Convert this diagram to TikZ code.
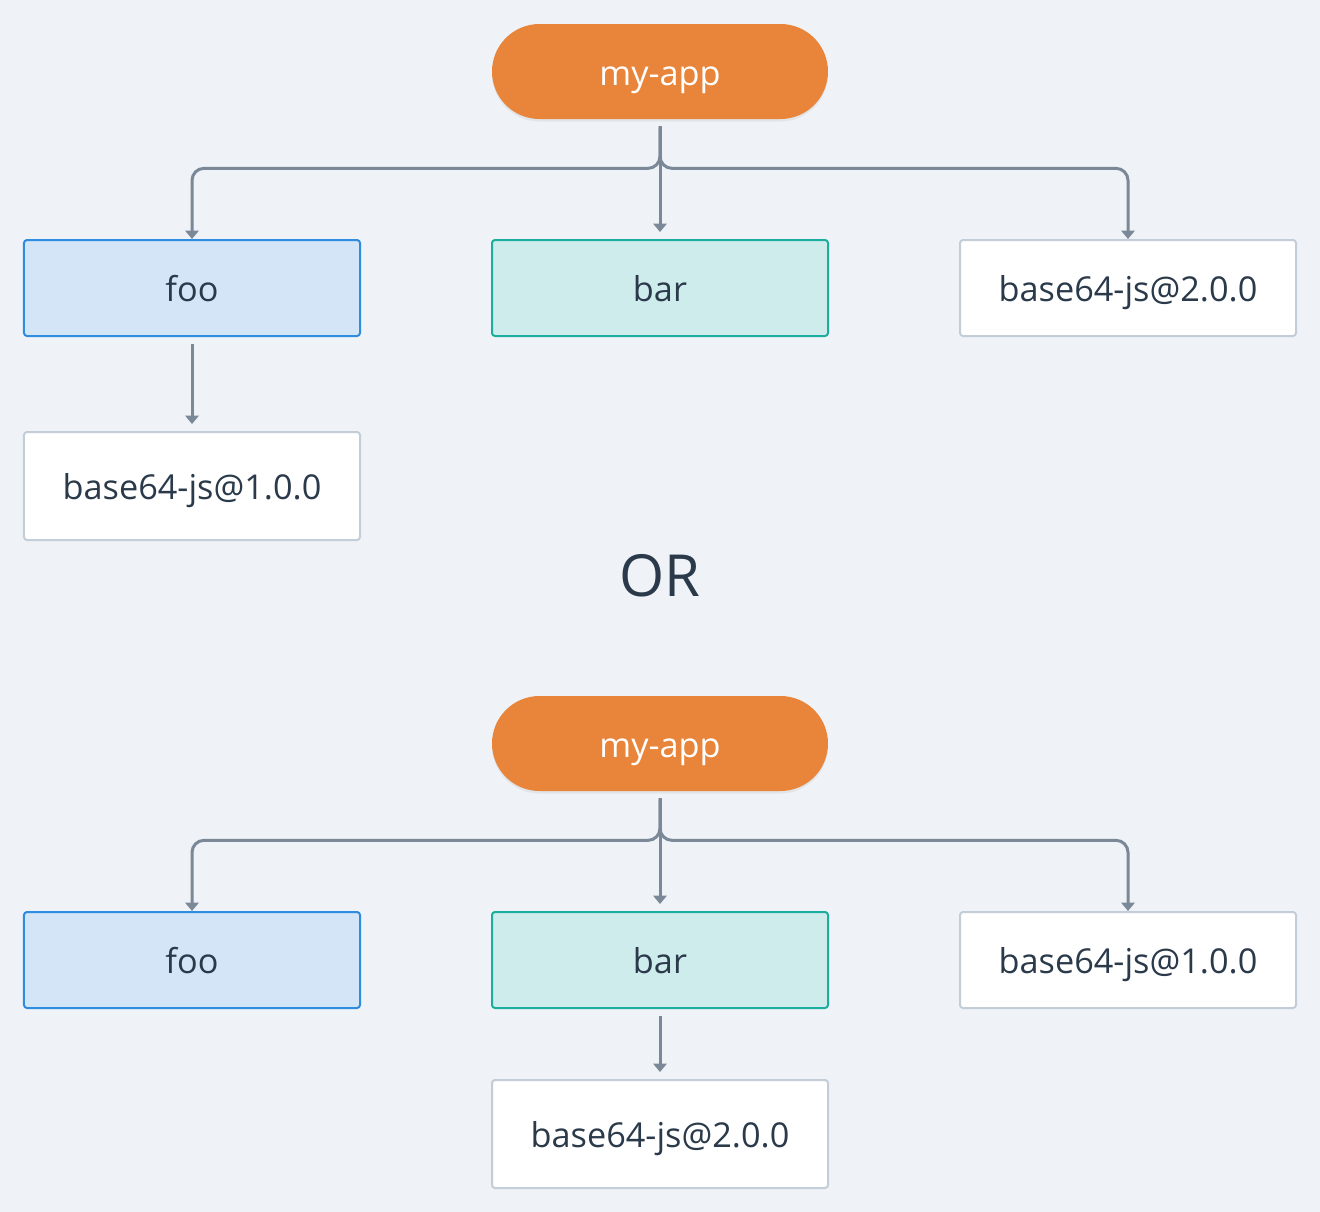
\documentclass[tikz,border=0pt]{standalone}
\usepackage{fontspec}
\setmainfont{Open Sans}
\usetikzlibrary{arrows.meta, shadows}
\definecolor{bgcol}{HTML}{EFF3F7}
\definecolor{appcol}{HTML}{E8853A}
\definecolor{foofill}{HTML}{D3E5F6}
\definecolor{fooline}{HTML}{2E8DDF}
\definecolor{barfill}{HTML}{CFECEC}
\definecolor{barline}{HTML}{1BAE9F}
\definecolor{depline}{HTML}{C3CDD8}
\definecolor{linecol}{HTML}{7B8897}
\definecolor{txtcol}{HTML}{2A3A4A}
\tikzstyle{app} = [rectangle, rounded corners=0.95cm, minimum width=6.72cm, minimum height=1.9cm, fill=appcol, text=white, font=\fontsize{19.5}{23}\selectfont, text height=15.4pt, text depth=0pt, drop shadow={opacity=0.12, shadow xshift=0cm, shadow yshift=-0.05cm}]
\tikzstyle{pkg} = [rectangle, rounded corners=0.06cm, minimum width=6.72cm, minimum height=1.92cm, line width=0.04cm, text=txtcol, font=\fontsize{19.5}{23}\selectfont, text height=15.4pt, text depth=0pt]
\tikzstyle{foobox} = [pkg, draw=fooline, fill=foofill]
\tikzstyle{barbox} = [pkg, draw=barline, fill=barfill]
\tikzstyle{depbox} = [pkg, draw=depline, fill=white, minimum height=2.16cm]
\tikzstyle{arrow} = [line width=0.06cm, draw=linecol, -{Triangle[width=0.27cm,length=0.17cm]}, shorten <=0.14cm, rounded corners=0.24cm]

\begin{document}
\begin{tikzpicture} [node distance=4.33cm]
        \fill[bgcol] (0,0) rectangle (26.4,-24.24);

        \node (app1) [app] at (13.2,-1.43) {my-app};
        \node (foo1) [foobox, below of=app1, xshift=-9.36cm] {foo};
        \node (bar1) [barbox, below of=app1] {bar};
        \node (dep2a) [depbox, below of=app1, xshift=9.36cm, minimum height=1.92cm] {base64-js@2.0.0};
        \node (dep1a) [depbox, below of=foo1, yshift=0.37cm] {base64-js@1.0.0};

        \node (or) [below of=bar1, yshift=-1.47cm, text=txtcol, font=\fontsize{33}{38}\selectfont, text height=21pt, text depth=0pt] {OR};

        \node (app2) [app, below of=or, yshift=1.02cm] {my-app};
        \node (foo2) [foobox, below of=app2, xshift=-9.36cm] {foo};
        \node (bar2) [barbox, below of=app2] {bar};
        \node (dep1b) [depbox, below of=app2, xshift=9.36cm, minimum height=1.92cm] {base64-js@1.0.0};
        \node (dep2b) [depbox, below of=bar2, yshift=0.85cm] {base64-js@2.0.0};

        \draw[arrow] (app1.south) -- ++(0,-0.98) -| (foo1.north);
        \draw[arrow] (app1.south) -- ++(0,-0.98) -| (dep2a.north);
        \draw[arrow, shorten >=0.14cm] (app1.south) -- (bar1.north);
        \draw[arrow, shorten >=0.14cm] (foo1.south) -- (dep1a.north);

        \draw[arrow] (app2.south) -- ++(0,-0.98) -| (foo2.north);
        \draw[arrow] (app2.south) -- ++(0,-0.98) -| (dep1b.north);
        \draw[arrow, shorten >=0.14cm] (app2.south) -- (bar2.north);
        \draw[arrow, shorten >=0.14cm] (bar2.south) -- (dep2b.north);
    \end{tikzpicture}
\end{document}
